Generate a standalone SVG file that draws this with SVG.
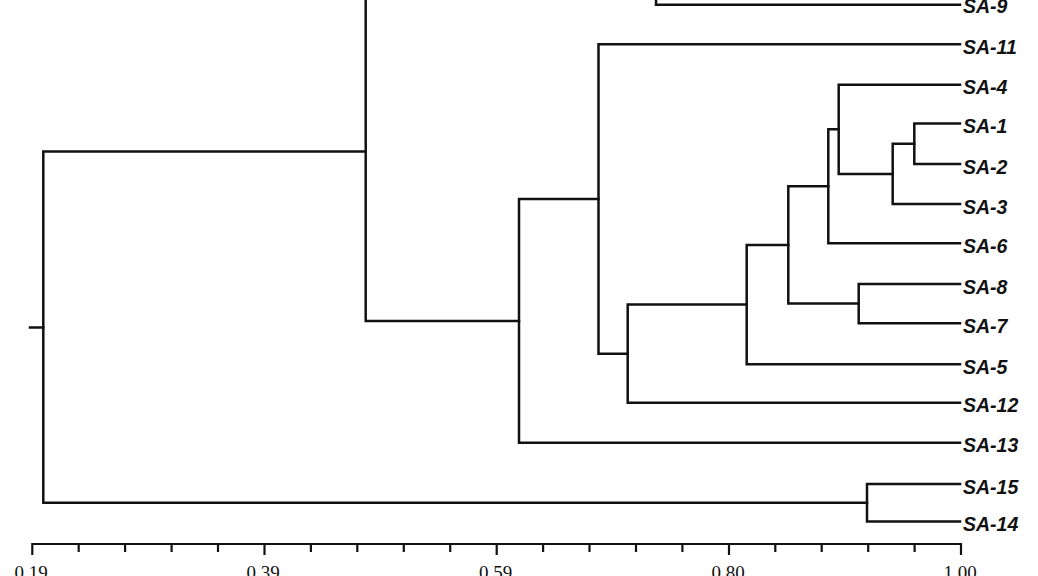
<svg xmlns="http://www.w3.org/2000/svg" width="1038" height="576" viewBox="0 0 1038 576">
<style>
.br{fill:none;stroke:#111111;stroke-width:2.5;stroke-linecap:square;stroke-linejoin:miter}
.ax{fill:none;stroke:#111111;stroke-width:2.2}
.lb{font-family:"Liberation Sans",Arial,sans-serif;font-weight:bold;font-style:italic;font-size:19.5px;fill:#111111}
.tk{font-family:"Liberation Serif","Times New Roman",serif;font-size:19px;fill:#111111;text-anchor:middle}
</style>
<rect width="1038" height="576" fill="#ffffff"/>
<g id="connectors">
<path class="br" d="M960 4.7 H656 V-20"/>
<path class="br" d="M365.7 -25 V320.9 H519"/>
<path class="br" d="M365.7 151.5 H43.3 V502.8 H867"/>
<path class="br" d="M30 327.5 H43.3"/>
<path class="br" d="M598.5 199 H519 V442.7 H960"/>
<path class="br" d="M960 44.3 H598.5 V353.7 H627.7"/>
<path class="br" d="M746.7 304.6 H627.7 V402.7 H960"/>
<path class="br" d="M788.3 245 H746.7 V364.3 H960"/>
<path class="br" d="M828.3 186.3 H788.3 V303.6 H858.7"/>
<path class="br" d="M960 284 H858.7 V323.3 H960"/>
<path class="br" d="M838.7 129.3 H828.3 V243.3 H960"/>
<path class="br" d="M960 84.7 H838.7 V173.9 H892.7"/>
<path class="br" d="M914.3 143.7 H892.7 V204 H960"/>
<path class="br" d="M960 123.5 H914.3 V164 H960"/>
<path class="br" d="M960 484 H867 V521.5 H960"/>
</g>
<g id="SA-9"><text class="lb" x="963" y="13">SA-9</text></g>
<g id="SA-11"><text class="lb" x="963" y="53.8">SA-11</text></g>
<g id="SA-4"><text class="lb" x="963" y="94.2">SA-4</text></g>
<g id="SA-1"><text class="lb" x="963" y="133">SA-1</text></g>
<g id="SA-2"><text class="lb" x="963" y="173.5">SA-2</text></g>
<g id="SA-3"><text class="lb" x="963" y="213.5">SA-3</text></g>
<g id="SA-6"><text class="lb" x="963" y="252.8">SA-6</text></g>
<g id="SA-8"><text class="lb" x="963" y="293.5">SA-8</text></g>
<g id="SA-7"><text class="lb" x="963" y="332.8">SA-7</text></g>
<g id="SA-5"><text class="lb" x="963" y="373.8">SA-5</text></g>
<g id="SA-12"><text class="lb" x="963" y="412.2">SA-12</text></g>
<g id="SA-13"><text class="lb" x="963" y="452.2">SA-13</text></g>
<g id="SA-15"><text class="lb" x="963" y="493.5">SA-15</text></g>
<g id="SA-14"><text class="lb" x="963" y="531">SA-14</text></g>
<g id="axis">
<path class="ax" d="M32.3 555 V544 H961 V555"/>
<path class="ax" d="M264.5 544 V555 M496.7 544 V555 M729 544 V555"/>
<path class="ax" d="M78.7 544 V552 M125.1 544 V552 M171.6 544 V552 M218 544 V552 M310.9 544 V552 M357.3 544 V552 M403.8 544 V552 M450.2 544 V552 M543.1 544 V552 M589.5 544 V552 M636 544 V552 M682.4 544 V552 M775.3 544 V552 M821.7 544 V552 M868.2 544 V552 M914.6 544 V552"/>
<text class="tk" x="31" y="578.5">0.19</text>
<text class="tk" x="263" y="578.5">0.39</text>
<text class="tk" x="495.5" y="578.5">0.59</text>
<text class="tk" x="728" y="578.5">0.80</text>
<text class="tk" x="960" y="578.5">1.00</text>
</g>
</svg>
